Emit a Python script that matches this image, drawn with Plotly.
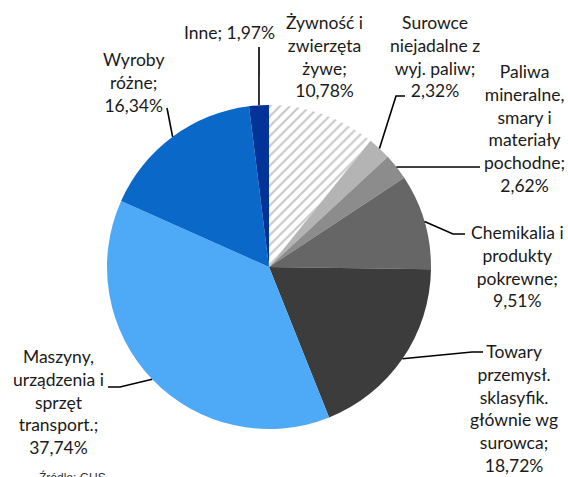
import math
import plotly.graph_objects as go

# ---- data ----
labels = [
    "Żywność i<br>zwierzęta<br>żywe;",
    "Surowce<br>niejadalne z<br>wyj. paliw;",
    "Paliwa<br>mineralne,<br>smary i<br>materiały<br>pochodne;",
    "Chemikalia i<br>produkty<br>pokrewne;",
    "Towary<br>przemysł.<br>sklasyfik.<br>głównie wg<br>surowca;",
    "Maszyny,<br>urządzenia i<br>sprzęt<br>transport.;",
    "Wyroby<br>różne;",
    "Inne;",
]
values = [10.78, 2.32, 2.62, 9.51, 18.72, 37.74, 16.34, 1.97]
value_text = ["10,78%", "2,32%", "2,62%", "9,51%", "18,72%", "37,74%", "16,34%", "1,97%"]

# ---- styles / layout ----
colors = ["#ffffff", "#b4b4b4", "#8c8c8c", "#666666", "#3c3c3c", "#4eaaf6", "#0a68c8", "#023399"]
W, H = 568, 477
OFF = 0  # body margin removed via post_script
CX, CY, R = 269, 267, 162
# label centres (page px) and leader-line bends (page px)
label_pos = [(324, 56), (435, 56), (524, 129), (517, 266), (514, 408), (58, 402), (133, 82), (229, 33)]
leaders = [
    None,
    [(396, 96), (405, 96)],
    [(480, 167)],
    [(453, 234), (465, 234)],
    [(472, 352), (483, 352)],
    [(120, 387), (108, 387)],
    [(167, 108)],
    [(259, 47)],
]
FONT = "Lato"

def px(x):
    return (x - OFF) / W

def py(y):
    return 1 - (y - OFF) / H

fig = go.Figure(go.Pie(
    values=values,
    labels=[l.replace("<br>", " ") for l in labels],
    sort=False,
    direction="clockwise",
    rotation=0,
    textinfo="none",
    hoverinfo="label+percent",
    marker=dict(
        colors=colors,
        line=dict(width=0),
        pattern=dict(shape=["/", "", "", "", "", "", "", ""], fgcolor="#c8c8c8",
                     bgcolor="#ffffff", size=7, solidity=0.3),
    ),
    domain=dict(x=[px(CX - R), px(CX + R)], y=[py(CY + R), py(CY - R)]),
    showlegend=False,
))

total = sum(values)
annotations = []
shapes = []
cum = 0.0
for i, v in enumerate(values):
    mid = (cum + v / 2) / total * 2 * math.pi
    cum += v
    ax = CX + R * math.sin(mid)
    ay = CY - R * math.cos(mid)
    lx, ly = label_pos[i]
    sep = "<br>" if "<br>" in labels[i] else " "
    annotations.append(dict(
        x=px(lx), y=py(ly), xref="paper", yref="paper",
        text=labels[i] + sep + value_text[i],
        showarrow=False, xanchor="center", yanchor="middle", align="center",
        font=dict(family=FONT, size=17.5, color="#1a1a1a"),
    ))
    if leaders[i]:
        pts = [(ax, ay)] + leaders[i]
        path = "M " + " L ".join(f"{px(x)},{py(y)}" for x, y in pts)
        shapes.append(dict(type="path", path=path, xref="paper", yref="paper",
                           line=dict(color="#000000", width=1.6)))

annotations.append(dict(
    x=px(37), y=py(468), xref="paper", yref="paper", text="Źródło: GUS",
    showarrow=False, xanchor="left", yanchor="top",
    font=dict(family="Liberation Sans", size=12, color="#333333"),
))

fig.update_layout(
    width=W, height=H,
    margin=dict(l=0, r=0, t=0, b=0),
    paper_bgcolor="#ffffff",
    plot_bgcolor="#ffffff",
    annotations=annotations,
    shapes=shapes,
)

fig.write_html(
    "out.html",
    config={"displayModeBar": False},
    post_script="document.body.style.margin='0';document.body.style.overflow='hidden';",
)
